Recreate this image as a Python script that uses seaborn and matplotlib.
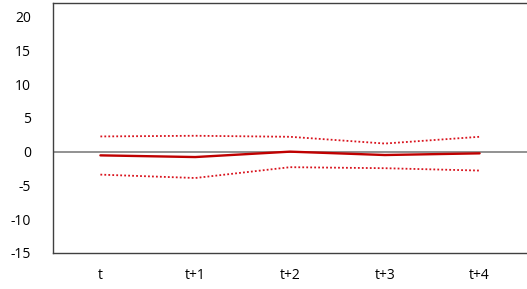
import matplotlib
matplotlib.use("Agg")
import matplotlib.pyplot as plt
import seaborn as sns
import pandas as pd

categories = ["t", "t+1", "t+2", "t+3", "t+4"]
central = [-0.55, -0.8, 0.0, -0.5, -0.25]
upper = [2.25, 2.35, 2.2, 1.2, 2.2]
lower = [-3.4, -3.9, -2.3, -2.45, -2.8]
yticks = [-15, -10, -5, 0, 5, 10, 15, 20]

sns.set_theme(style="white")
plt.rcParams['font.family'] = ['Open Sans', 'DejaVu Sans']

df = pd.DataFrame({"cat": categories, "central": central, "upper": upper, "lower": lower})
df["x"] = range(len(categories))

fig = plt.figure(figsize=(5.27, 2.89), dpi=100)
ax = fig.add_axes([53/527, 1-253/289, 1-53/527, 250/289])

ax.axhline(0, color="#7f7f7f", lw=1.2, zorder=1)
sns.lineplot(data=df, x="x", y="upper", ax=ax, color="#d9141e", lw=1.3, linestyle=(0, (1, 1.2)), zorder=2)
sns.lineplot(data=df, x="x", y="lower", ax=ax, color="#d9141e", lw=1.3, linestyle=(0, (1, 1.2)), zorder=2)
sns.lineplot(data=df, x="x", y="central", ax=ax, color="#c00000", lw=1.7, zorder=3)

ax.set_xlim(-0.5, len(categories) - 0.5)
ax.set_ylim(-15, 22)
ax.set_xticks(range(len(categories)))
ax.set_xticklabels(categories)
ax.set_yticks(yticks)
ax.set_yticklabels([str(v) for v in yticks])
ax.set_xlabel("")
ax.set_ylabel("")
ax.tick_params(axis="both", length=0, labelsize=10, colors="#000000")
ax.tick_params(axis="x", pad=11)
ax.tick_params(axis="y", pad=16)
for s in ["left", "top", "bottom"]:
    ax.spines[s].set_visible(True)
    ax.spines[s].set_color("#404040")
    ax.spines[s].set_linewidth(1.0)
ax.spines["right"].set_visible(False)
ax.grid(False)

fig.savefig("out.png", dpi=100)
